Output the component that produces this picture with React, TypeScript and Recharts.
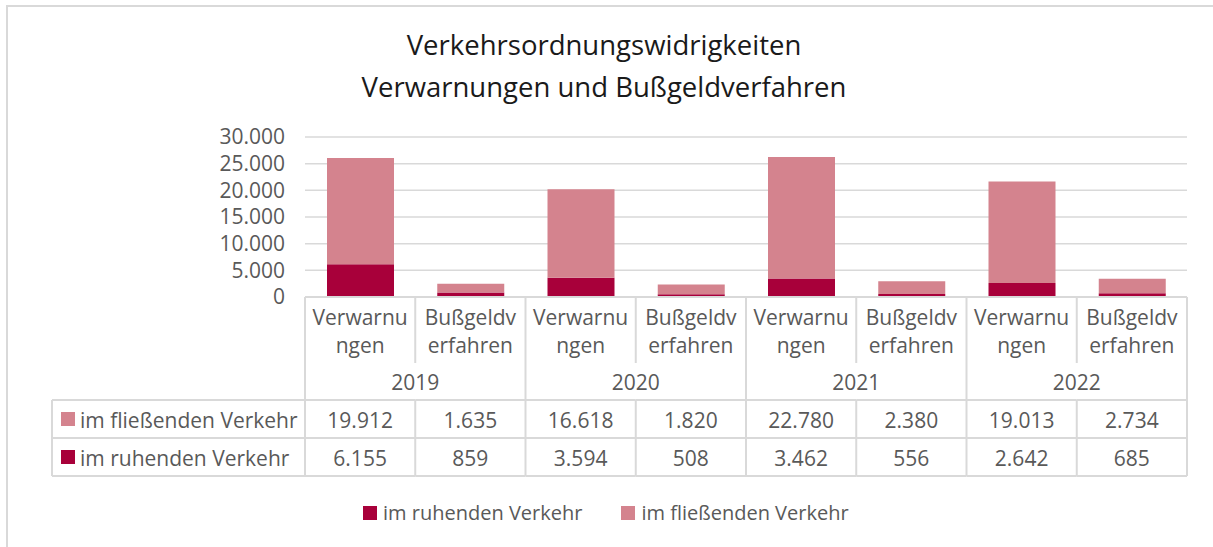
import React from 'react'
import { BarChart, Bar, XAxis, YAxis, CartesianGrid } from 'recharts'

const years = ['2019', '2020', '2021', '2022']
const kinds = ['Verwarnungen', 'Bußgeldverfahren']

// im ruhenden Verkehr: [Verwarnungen, Bußgeldverfahren] je Jahr
const ruhend = [
  [6155, 859],
  [3594, 508],
  [3462, 556],
  [2642, 685],
]
// im fließenden Verkehr
const fliessend = [
  [19912, 1635],
  [16618, 1820],
  [22780, 2380],
  [19013, 2734],
]

const yTicks = [0, 5000, 10000, 15000, 20000, 25000, 30000]

const seriesRuhend = { key: 'ruhend', name: 'im ruhenden Verkehr', color: '#A8003A' }
const seriesFliessend = { key: 'fliessend', name: 'im fließenden Verkehr', color: '#D4838E' }

const data = years.flatMap((year, yi) =>
  kinds.map((kind, ki) => ({
    id: `${year}-${kind}`,
    year,
    kind,
    ruhend: ruhend[yi][ki],
    fliessend: fliessend[yi][ki],
  }))
)

const W = 1213
const H = 547
const PLOT_LEFT = 305
const PLOT_RIGHT = 1187
const PLOT_TOP = 137
const PLOT_BOTTOM = 297
const BAND = (PLOT_RIGHT - PLOT_LEFT) / data.length
const FONT = '"Open Sans", sans-serif'
const TEXT = '#595959'
const LINE = '#d9d9d9'
const FS = 21

const fmt = (v: number) => String(v).replace(/\B(?=(\d{3})+(?!\d))/g, '.')

// Excel wraps the narrow category cells after 8 characters
const wrap = (s: string) => [s.slice(0, 8), s.slice(8)]

const tableRows = [seriesFliessend, seriesRuhend]
const ROW_Y = [400, 438, 476]

function TableTick(props: any) {
  const { x, payload } = props
  const i = payload.index as number
  const d = data[i]
  const left = x - BAND / 2
  const right = x + BAND / 2
  const [l1, l2] = wrap(d.kind)
  const txt = { fontFamily: FONT, fontSize: FS, fill: TEXT, textAnchor: 'middle' as const, dominantBaseline: 'central' as const }
  return (
    <g>
      <text x={x} y={317} {...txt}>{l1}</text>
      <text x={x} y={345} {...txt}>{l2}</text>
      {tableRows.map((s, r) => (
        <text key={s.key} x={x} y={(ROW_Y[r] + ROW_Y[r + 1]) / 2 + 1} {...txt}>
          {fmt((d as any)[s.key])}
        </text>
      ))}
      {ROW_Y.map((y) => (
        <line key={y} x1={left} x2={right} y1={y} y2={y} stroke={LINE} strokeWidth={2} />
      ))}
      {i % 2 === 1 ? (
        <line x1={right} x2={right} y1={PLOT_BOTTOM} y2={476} stroke={LINE} strokeWidth={2} />
      ) : (
        <>
          <line x1={right} x2={right} y1={PLOT_BOTTOM} y2={363} stroke={LINE} strokeWidth={2} />
          <line x1={right} x2={right} y1={400} y2={476} stroke={LINE} strokeWidth={2} />
          <text x={right} y={382} {...txt}>{d.year}</text>
        </>
      )}
      {i === 0 && (
        <g>
          <line x1={left} x2={left} y1={PLOT_BOTTOM} y2={476} stroke={LINE} strokeWidth={2} />
          <line x1={52} x2={52} y1={400} y2={476} stroke={LINE} strokeWidth={2} />
          {ROW_Y.map((y) => (
            <line key={y} x1={52} x2={left} y1={y} y2={y} stroke={LINE} strokeWidth={2} />
          ))}
          {tableRows.map((s, r) => {
            const cy = (ROW_Y[r] + ROW_Y[r + 1]) / 2
            return (
              <g key={s.key}>
                <rect x={61} y={cy - 7} width={14} height={14} fill={s.color} />
                <text x={80} y={cy + 1} fontFamily={FONT} fontSize={FS} fill={TEXT} dominantBaseline="central">
                  {s.name}
                </text>
              </g>
            )
          })}
        </g>
      )}
    </g>
  )
}

export default function App() {
  return (
    <div style={{ position: 'fixed', left: 0, top: 0, width: W, height: H, overflow: 'hidden', background: '#fff' }}>
      <div
        style={{
          position: 'absolute',
          left: 6,
          top: 5,
          width: W + 20,
          height: H + 20,
          border: `2px solid ${LINE}`,
        }}
      />
      <div
        style={{
          position: 'absolute',
          left: 0,
          width: 1208,
          top: 24,
          textAlign: 'center',
          fontFamily: FONT,
          fontSize: 27.5,
          lineHeight: '42px',
          color: '#1a1a1a',
        }}
      >
        Verkehrsordnungswidrigkeiten
        <br />
        Verwarnungen und Bußgeldverfahren
      </div>
      <div style={{ position: 'absolute', left: 0, top: 0 }}>
        <BarChart
          width={W}
          height={H}
          data={data}
          margin={{ top: PLOT_TOP, right: W - PLOT_RIGHT, bottom: 0, left: PLOT_LEFT - 80 }}
          barSize={67}
        >
          <CartesianGrid vertical={false} stroke={LINE} strokeWidth={1.5} />
          <XAxis
            dataKey="id"
            height={H - PLOT_BOTTOM}
            interval={0}
            tickLine={false}
            axisLine={{ stroke: LINE, strokeWidth: 2 }}
            tick={<TableTick />}
          />
          <YAxis
            width={80}
            domain={[0, 30000]}
            ticks={yTicks}
            interval={0}
            tickFormatter={fmt}
            axisLine={false}
            tickLine={false}
            tickMargin={14}
            tick={{ fontFamily: FONT, fontSize: FS, fill: TEXT }}
          />
          <Bar dataKey={seriesRuhend.key} name={seriesRuhend.name} stackId="a" fill={seriesRuhend.color} isAnimationActive={false} />
          <Bar dataKey={seriesFliessend.key} name={seriesFliessend.name} stackId="a" fill={seriesFliessend.color} isAnimationActive={false} />
        </BarChart>
      </div>
      <div
        style={{
          position: 'absolute',
          left: 363,
          top: 500,
          display: 'flex',
          alignItems: 'center',
          fontFamily: FONT,
          fontSize: 20,
          color: TEXT,
          lineHeight: '26px',
        }}
      >
        {[seriesRuhend, seriesFliessend].map((s, i) => (
          <div key={s.key} style={{ display: 'flex', alignItems: 'center', marginLeft: i ? 39 : 0 }}>
            <span style={{ width: 14, height: 14, background: s.color, marginRight: 6, display: 'inline-block' }} />
            <span>{s.name}</span>
          </div>
        ))}
      </div>
    </div>
  )
}
